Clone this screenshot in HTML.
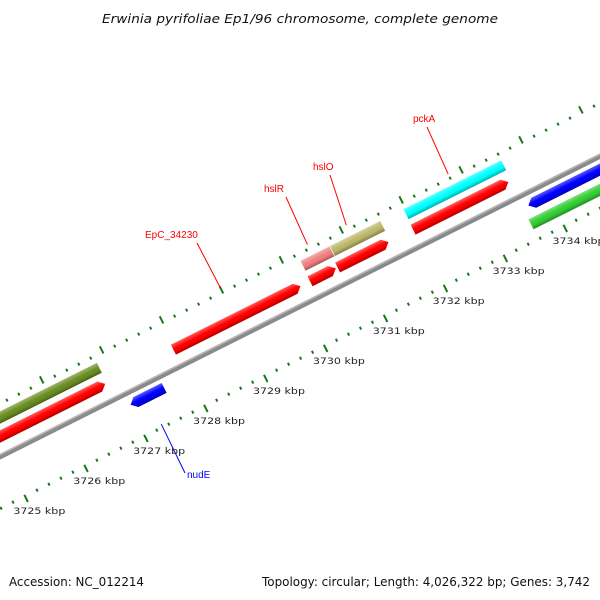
<!DOCTYPE html>
<html><head><meta charset="utf-8"><style>
body{margin:0;background:#fff;}
svg{display:block;font-family:"Liberation Sans",sans-serif;}
</style></head><body>
<svg id="map" width="600" height="600" viewBox="0 0 600 600" xmlns="http://www.w3.org/2000/svg">
<defs>
<linearGradient id="shade" x1="0" y1="0" x2="0" y2="1">
<stop offset="0" stop-color="#fff" stop-opacity="0.35"/><stop offset="0.45" stop-color="#fff" stop-opacity="0"/>
<stop offset="0.6" stop-color="#000" stop-opacity="0"/><stop offset="1" stop-color="#000" stop-opacity="0.3"/>
</linearGradient>
</defs>
<text x="102" y="23" textLength="396" lengthAdjust="spacingAndGlyphs" font-family="DejaVu Sans, sans-serif" font-size="12.5" font-style="italic" fill="#111">Erwinia pyrifoliae Ep1/96 chromosome, complete genome</text>
<g id="rot" transform="translate(124,394.6) rotate(-26.6)"></g>
<g id="labels"></g>
<g id="scale"></g>
<text x="9" y="586" textLength="135" lengthAdjust="spacingAndGlyphs" font-family="DejaVu Sans, sans-serif" font-size="12" fill="#111">Accession: NC_012214</text>
<text x="262" y="586" textLength="328" lengthAdjust="spacingAndGlyphs" font-family="DejaVu Sans, sans-serif" font-size="12" fill="#111">Topology: circular; Length: 4,026,322 bp; Genes: 3,742</text>
</svg>
<script>
const featNames=["olive-left","red-left","nudE","EpC_34230","hslR","red-hslR","hslO","red-hslO","pckA","red-pckA","blue-right","green-right"];
const featStart=[3722.5,3722.5,3727.02,3727.96,3730.25,3730.24,3730.74,3730.70,3731.97,3731.96,3733.66,3733.57];
const featEnd=[3726.85,3726.82,3727.58,3730.08,3730.73,3730.67,3731.58,3731.55,3733.60,3733.55,3736.5,3736.5];
const featLane=[0,1,2,1,0,1,0,1,0,1,2,3];
const featColor=["#6b8e23","#ff0000","#0000ff","#ff0000","#f08080","#ff0000","#bdb76b","#ff0000","#00ffff","#ff0000","#0000ff","#32cd32"];
const featTip=[0,1,-1,1,0,1,0,1,0,1,-1,0];
const tickKbp=[3722,3723,3724,3725,3726,3727,3728,3729,3730,3731,3732,3733,3734,3735,3736];
const scaleLabels=["3725 kbp","3726 kbp","3727 kbp","3728 kbp","3729 kbp","3730 kbp","3731 kbp","3732 kbp","3733 kbp","3734 kbp"];
const scaleKbp=[3725,3726,3727,3728,3729,3730,3731,3732,3733,3734];
const labelText=["EpC_34230","hslR","hslO","pckA","nudE"];
const labelColor=["#ff0000","#ff0000","#ff0000","#ff0000","#0000ff"];
const labelKbp=[3729.0,3730.45,3731.1,3732.8,3727.3];

const NS="http://www.w3.org/2000/svg";
const K0=3727,PX=67.0,TH=26.6*Math.PI/180,OX=124,OY=394.6;
const laneV=[-35,-18,12,30],HW=5.5,TOPR=-46,BOTR=45;
const u=k=>(k-K0)*PX;
function scr(k,v){const a=u(k);return [OX+a*Math.cos(TH)+v*Math.sin(TH),OY-a*Math.sin(TH)+v*Math.cos(TH)];}
const g=document.getElementById('rot');
function mk(tag,attrs,parent){const e=document.createElementNS(NS,tag);for(const k in attrs)e.setAttribute(k,attrs[k]);parent.appendChild(e);return e;}
let bb=mk('rect',{x:-300,y:-2.6,width:1200,height:5.2,fill:'#8a8a8a'},g);


let bb2=mk('rect',{x:-300,y:-2.6,width:1200,height:1.6,fill:'#b5b5b5'},g);


for(const ring of [TOPR,BOTR]){
 const dir=ring<0?-1:1;
 for(let i=0;i<tickKbp.length-1;i++){
  for(let j=0;j<5;j++){
   const k=tickKbp[i]+j*0.2,x=u(k),maj=j==0;
   const len=maj?8:3;
   const t=mk('line',{x1:x,x2:x,y1:ring,y2:ring+dir*len,stroke:'#187818','stroke-width':2},g);
   
   
  }
 }
}
for(let i=0;i<featNames.length;i++){
 const s=u(featStart[i]),e=u(featEnd[i]),v=laneV[featLane[i]],t=6;
 let pts;
 if(featTip[i]==1)pts=[[s,v-HW],[e-t,v-HW],[e,v],[e-t,v+HW],[s,v+HW]];
 else if(featTip[i]==-1)pts=[[s,v],[s+t,v-HW],[e,v-HW],[e,v+HW],[s+t,v+HW]];
 else pts=[[s,v-HW],[e,v-HW],[e,v+HW],[s,v+HW]];
 const ps=pts.map(p=>p.join(',')).join(' ');
 const grp=mk('g',{},g);
 
 
 mk('polygon',{points:ps,fill:featColor[i]},grp);
 mk('polygon',{points:ps,fill:'url(#shade)'},grp);
}
const sc=document.getElementById('scale');
for(let i=0;i<scaleKbp.length;i++){
 const p=scr(scaleKbp[i],BOTR);
 const t=mk('text',{x:p[0]-11,y:p[1]+19,'font-size':'9','font-family':'DejaVu Sans, sans-serif',textLength:'52',lengthAdjust:'spacingAndGlyphs',fill:'#222'},sc);
 t.textContent=scaleLabels[i];
 
 
}
const lb=document.getElementById('labels');
const labelPos=[[145,238],[264,192],[313,170],[413,122],[187,478]];
for(let i=0;i<labelText.length;i++){
 const up=labelColor[i]!="#0000ff";
 const p=scr(labelKbp[i],up?TOPR-6:BOTR-2);
 const lp=labelPos[i];
 const ln=mk('line',{x1:p[0],y1:p[1],x2:up?lp[0]+(i==0?52:i==3?14:i==2?17:22):lp[0]-2,y2:up?lp[1]+5:lp[1]-5,stroke:labelColor[i],'stroke-width':1},lb);
 
 
 const t=mk('text',{x:lp[0],y:lp[1],'font-size':'10',fill:labelColor[i]},lb);
 t.textContent=labelText[i];
 
 
}
</script>
</body></html>
